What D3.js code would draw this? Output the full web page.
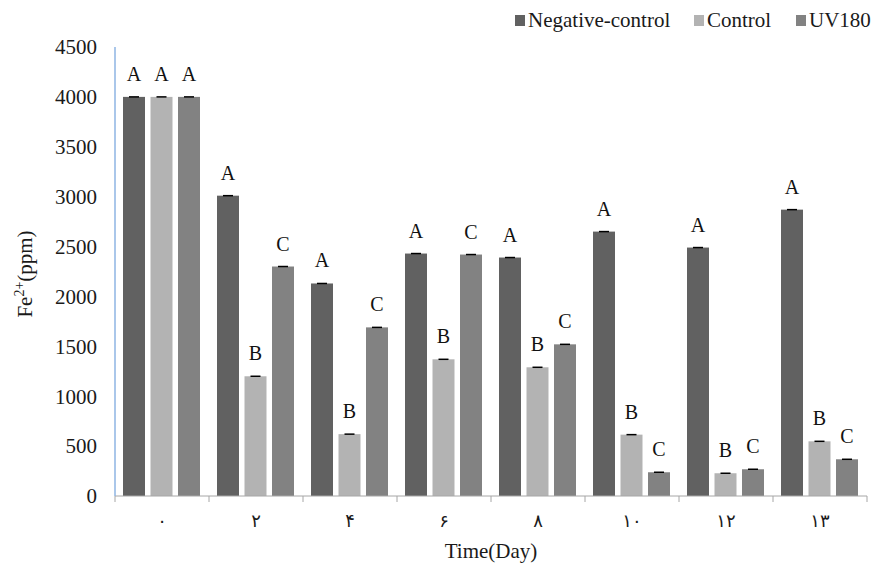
<!DOCTYPE html>
<html>
<head>
<meta charset="utf-8">
<script src="https://cdn.jsdelivr.net/npm/d3@7"></script>
<style>
  body { margin: 0; background: #fff; }
</style>
</head>
<body>
<div id="wrap"></div>
<script>
var days = ["۰", "۲", "۴", "۶", "۸", "۱۰", "۱۲", "۱۳"];
var seriesNames = ["Negative-control", "Control", "UV180"];
var negControl = [4000, 3010, 2130, 2430, 2390, 2650, 2490, 2870];
var control = [4000, 1200, 620, 1370, 1290, 615, 228, 548];
var uv180 = [4000, 2300, 1690, 2420, 1520, 238, 268, 368];
var letters = [
  ["A", "A", "A", "A", "A", "A", "A", "A"],
  ["A", "B", "B", "B", "B", "B", "B", "B"],
  ["A", "C", "C", "C", "C", "C", "C", "C"]
];
var yTicks = [0, 500, 1000, 1500, 2000, 2500, 3000, 3500, 4000, 4500];
var colors = ["#616161", "#b3b3b3", "#828282"];

var SERIF = 'Liberation Serif';
var W = 875, H = 567;
var margin = {top: 47, right: 8, bottom: 71, left: 115};
var width = W - margin.left - margin.right,
    height = H - margin.top - margin.bottom;

var svg = d3.select('#wrap').append('svg')
  .attr('width', W).attr('height', H);
var g = svg.append('g')
  .attr('transform', 'translate(' + margin.left + ',' + margin.top + ')');

var x = d3.scaleBand().domain(days).range([0, width]).paddingInner(0).paddingOuter(0);
var x1 = d3.scaleBand().domain(d3.range(3)).range([8, x.bandwidth() - 9]).paddingInner(0.2);
var y = d3.scaleLinear().domain([0, 4500]).range([height, 0]);

var allSeries = [negControl, control, uv180];

// y tick labels
g.selectAll('.ytick').data(yTicks).enter().append('text')
  .attr('class', 'ytick')
  .attr('x', -18).attr('y', function(d) { return y(d); })
  .attr('dy', '0.35em')
  .attr('text-anchor', 'end')
  .style('font-family', SERIF)
  .style('font-size', '21px').style('fill', '#1a1a1a')
  .text(function(d) { return d; });

// bars
var groups = g.selectAll('.grp').data(days).enter().append('g')
  .attr('class', 'grp')
  .attr('transform', function(d) { return 'translate(' + x(d) + ',0)'; });

groups.each(function(day, i) {
  var gg = d3.select(this);
  allSeries.forEach(function(s, k) {
    var v = s[i];
    gg.append('rect')
      .attr('x', x1(k)).attr('width', x1.bandwidth())
      .attr('y', y(v)).attr('height', height - y(v))
      .style('fill', colors[k]);
    var cx = x1(k) + x1.bandwidth() / 2;
    gg.append('line')
      .attr('x1', cx - 5).attr('x2', cx + 5)
      .attr('y1', y(v)).attr('y2', y(v))
      .style('stroke', '#000').style('stroke-width', 1.5);
    gg.append('text')
      .attr('x', cx).attr('y', y(v) - 16)
      .attr('text-anchor', 'middle')
      .style('font-family', SERIF)
      .style('font-size', '20px').style('fill', '#111')
      .text(letters[k][i]);
  });
});

// x axis
g.append('line')
  .attr('x1', 0).attr('x2', width).attr('y1', height).attr('y2', height)
  .style('stroke', '#a6a6a6').style('stroke-width', 1);
g.selectAll('.xt').data(days.concat(['end'])).enter().append('line')
  .attr('x1', function(d, i) { return i * x.bandwidth(); })
  .attr('x2', function(d, i) { return i * x.bandwidth(); })
  .attr('y1', height).attr('y2', height + 6)
  .style('stroke', '#a6a6a6');
g.selectAll('.xl').data(days).enter().append('text')
  .attr('x', function(d) { return x(d) + x.bandwidth() / 2; })
  .attr('y', height + 31)
  .attr('text-anchor', 'middle')
  .style('font-family', 'DejaVu Sans')
  .style('font-size', '18px').style('fill', '#1a1a1a')
  .text(function(d) { return d; });

// y axis line
g.append('line')
  .attr('x1', 0).attr('x2', 0).attr('y1', 0).attr('y2', height)
  .style('stroke', '#8eb4e3').style('stroke-width', 1.5);

// axis titles
svg.append('text')
  .attr('x', 491).attr('y', 558)
  .attr('text-anchor', 'middle')
  .style('font-family', SERIF)
  .style('font-size', '21px').style('fill', '#1a1a1a')
  .text('Time(Day)');

var yt = svg.append('text')
  .attr('transform', 'translate(32,274) rotate(-90)')
  .attr('text-anchor', 'middle')
  .style('font-family', SERIF)
  .style('font-size', '21px').style('fill', '#1a1a1a');
yt.append('tspan').text('Fe');
yt.append('tspan').attr('dy', -8).style('font-size', '14px').text('2+');
yt.append('tspan').attr('dy', 8).text('(ppm)');

// legend
var legX = [515, 694, 796];
var leg = svg.selectAll('.leg').data(seriesNames).enter().append('g')
  .attr('transform', function(d, i) { return 'translate(' + legX[i] + ',27)'; });
leg.append('rect').attr('x', 0).attr('y', -12).attr('width', 10).attr('height', 11)
  .style('fill', function(d, i) { return colors[i]; });
leg.append('text').attr('x', 13).attr('y', 0)
  .style('font-family', SERIF)
  .style('font-size', '21px').style('fill', '#1a1a1a')
  .text(function(d) { return d; });
</script>
</body>
</html>
